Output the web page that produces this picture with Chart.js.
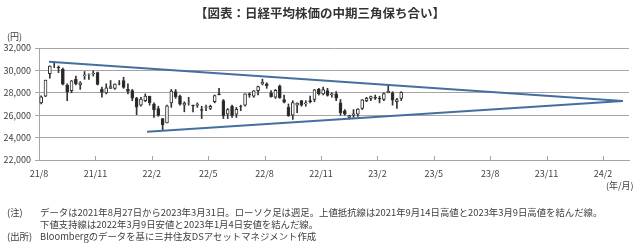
<!DOCTYPE html>
<html lang="ja">
<head>
<meta charset="utf-8">
<script src="https://cdn.jsdelivr.net/npm/chart.js@4.4.0/dist/chart.umd.min.js"></script>
<style>
    body { margin: 0; background: #fff; font-family: "Noto Sans CJK JP", sans-serif; color: #404040; }
    #wrap { position: relative; width: 640px; height: 247px; overflow: hidden; }
    #chart { position: absolute; left: 0; top: 0; }
    .txt { position: absolute; white-space: nowrap; line-height: 12px; font-size: 9px; }
    .note { font-size: 9.4px; }
    #title { top: 6px; left: 0; width: 640px; text-align: center; font-size: 12.5px; line-height: 14px; font-weight: bold; color: #333; }
</style>
</head>
<body>
<div id="wrap">
    <canvas id="chart" width="640" height="247"></canvas>
    <div id="title" class="txt">【図表：日経平均株価の中期三角保ち合い】</div>
    <div class="txt" style="left:7px; top:31px;">(円)</div>
    <div class="txt" style="left:606px; top:180px;">(年/月)</div>
    <div class="txt note" style="left:7px; top:206px;">(注)</div>
    <div class="txt note" style="left:40px; top:206px;">データは2021年8月27日から2023年3月31日。ローソク足は週足。上値抵抗線は2021年9月14日高値と2023年3月9日高値を結んだ線。</div>
    <div class="txt note" style="left:40px; top:218px;">下値支持線は2022年3月9日安値と2023年1月4日安値を結んだ線。</div>
    <div class="txt note" style="left:7px; top:230px;">(出所)</div>
    <div class="txt note" style="left:40px; top:230px;">Bloombergのデータを基に三井住友DSアセットマネジメント作成</div>
</div>
<script>
// 週足（2021/8/27〜2023/3/31）
const opens = [
    27100, 27700, 29700, 30500, 30300, 30100, 28700, 28200, 29200, 28700,
    29500, 29600, 29700, 29800, 28300, 28000, 28400, 28400, 28800, 29100,
    28300, 28200, 27500, 26900, 27300, 27700, 27000, 26600, 25700, 25300,
    27100, 28100, 27700, 26900, 27100, 26900, 26900, 26500, 26700, 26600,
    27200, 27900, 27300, 26100, 26800, 26100, 26800, 26900, 27900, 27700,
    28200, 28800, 28800, 28000, 27600, 28600, 27400, 26700, 26000, 26900,
    27300, 27000, 27300, 27400, 28300, 27900, 28200, 27800, 27900, 27100,
    26400, 25800, 26000, 26100, 26600, 27300, 27500, 27600, 27500, 27400,
    28000, 28000, 27200, 27500
];
const highs = [
    27740, 29130, 30400, 30795, 30400, 30200, 28800, 29100, 29490, 29000,
    29900, 29700, 29960, 29850, 28500, 28800, 29100, 28800, 29100, 29390,
    28800, 28300, 27600, 27600, 27900, 27700, 27100, 26800, 25700, 26900,
    28300, 28300, 27800, 27200, 27600, 26900, 27100, 26800, 26900, 26900,
    27800, 28400, 27400, 26600, 26900, 26700, 26900, 27900, 28000, 28200,
    28600, 29222, 28900, 28200, 28300, 28700, 27800, 27000, 27300, 27100,
    27300, 27300, 27700, 28300, 28400, 28500, 28400, 28000, 28100, 27400,
    26500, 26000, 26500, 26600, 27400, 27600, 27700, 27800, 27700, 28000,
    28734, 28100, 27500, 28100
];
const lows = [
    27010, 27660, 29300, 30250, 29800, 28700, 27293, 28000, 28700, 28300,
    29200, 29200, 29500, 28700, 27600, 27900, 28400, 28300, 28700, 28400,
    27900, 27300, 26040, 26800, 27200, 26900, 25800, 25900, 24681, 25300,
    26700, 27500, 26900, 26300, 26900, 26300, 26700, 25700, 26400, 26500,
    27100, 27800, 25700, 25700, 25800, 25800, 26400, 26800, 27600, 27600,
    27800, 28700, 28400, 27600, 27500, 27500, 27100, 25900, 25621, 26237,
    26800, 26800, 27100, 27200, 27800, 27800, 27700, 27600, 27300, 26000,
    26000, 25661, 25800, 25900, 26500, 27200, 27300, 27400, 27100, 27300,
    28000, 26900, 26600, 27300
];
const closes = [
    27641, 29128, 30381, 30500, 30248, 28771, 28048, 29068, 28804, 28892,
    29611, 29609, 29745, 28751, 28029, 28437, 28545, 28782, 28791, 28478,
    28124, 27522, 26717, 27439, 27696, 27122, 26476, 25985, 25162, 26827,
    28149, 27665, 26985, 27093, 27105, 26847, 27003, 26427, 26739, 26781,
    27761, 27824, 25963, 26491, 25935, 26517, 26788, 27914, 27801, 28175,
    28546, 28930, 28641, 27650, 28214, 27567, 27153, 25937, 27116, 27090,
    26890, 27105, 27199, 28263, 27899, 28283, 27777, 27901, 27527, 26235,
    26094, 25973, 26119, 26553, 27382, 27509, 27670, 27513, 27453, 27927,
    28143, 27333, 27385, 28041
];

// 目盛り（13週ごと）
const tickLabels = ['21/8', '21/11', '22/2', '22/5', '22/8', '22/11', '23/2', '23/5', '23/8', '23/11', '24/2'];
const weeksPerTick = 13;
const axisWeeks = 136;

// 上値抵抗線・下値支持線（週番号, 円）
const resistWeeks = [2.3, 134.6];
const resistPrices = [30780, 27260];
const supportWeeks = [24.9, 134.6];
const supportPrices = [24520, 27260];

const gridColor = '#a6a6a6';
const textColor = '#404040';
const lineBlue = '#44709f';

// X軸の内向き目盛り線
const innerTicks = {
    id: 'innerTicks',
    afterDraw(chart) {
        const xs = chart.scales.x;
        const ctx = chart.ctx;
        const bottom = chart.chartArea.bottom;
        ctx.save();
        ctx.strokeStyle = gridColor;
        ctx.lineWidth = 1;
        xs.ticks.forEach(t => {
            const px = Math.round(xs.getPixelForValue(t.value)) + 0.5;
            ctx.beginPath();
            ctx.moveTo(px, bottom);
            ctx.lineTo(px, bottom - 4);
            ctx.stroke();
        });
        ctx.restore();
    }
};

function buildChart() {
    const ctx = document.getElementById('chart').getContext('2d');
    const wicks = closes.map((c, i) => ({ x: i + 0.5, y: [lows[i], highs[i]] }));
    const bodies = closes.map((c, i) => ({ x: i + 0.5, y: [opens[i], c] }));
    const bodyColors = closes.map((c, i) => c >= opens[i] ? '#ffffff' : '#262626');

    new Chart(ctx, {
        type: 'bar',
        data: {
            datasets: [
                {
                    type: 'line',
                    data: resistWeeks.map((w, i) => ({ x: w, y: resistPrices[i] })),
                    borderColor: lineBlue,
                    borderWidth: 2,
                    pointRadius: 0,
                    order: 0
                },
                {
                    type: 'line',
                    data: supportWeeks.map((w, i) => ({ x: w, y: supportPrices[i] })),
                    borderColor: lineBlue,
                    borderWidth: 2,
                    pointRadius: 0,
                    order: 0
                },
                {
                    data: bodies,
                    backgroundColor: bodyColors,
                    borderColor: '#333',
                    borderWidth: 1,
                    borderSkipped: false,
                    barThickness: 3,
                    grouped: false,
                    order: 1
                },
                {
                    data: wicks,
                    backgroundColor: '#333',
                    barThickness: 1,
                    grouped: false,
                    order: 2
                }
            ]
        },
        options: {
            responsive: false,
            animation: false,
            devicePixelRatio: 1,
            layout: { padding: { left: 0, top: 48, right: 11, bottom: 67 } },
            plugins: { legend: { display: false }, tooltip: { enabled: false } },
            scales: {
                x: {
                    type: 'linear',
                    min: 0,
                    max: axisWeeks,
                    offset: false,
                    grid: { display: false },
                    border: { display: true, color: gridColor },
                    afterBuildTicks: s => {
                        s.ticks = tickLabels.map((l, i) => ({ value: i * weeksPerTick }));
                    },
                    afterFit: s => { s.height = 20; },
                    ticks: {
                        autoSkip: false,
                        maxRotation: 0,
                        padding: 0,
                        color: textColor,
                        font: { family: 'Noto Sans CJK JP', size: 9 },
                        callback: v => tickLabels[Math.round(v / weeksPerTick)]
                    }
                },
                y: {
                    min: 22000,
                    max: 32000,
                    grid: { color: gridColor, tickLength: 4 },
                    border: { display: true, color: gridColor },
                    afterFit: s => { s.width = 39; },
                    ticks: {
                        stepSize: 2000,
                        padding: 4,
                        color: textColor,
                        font: { family: 'Noto Sans CJK JP', size: 9 },
                        callback: v => v.toLocaleString('en-US')
                    }
                }
            }
        },
        plugins: [innerTicks]
    });
}

document.addEventListener('DOMContentLoaded', buildChart);
</script>
</body>
</html>
